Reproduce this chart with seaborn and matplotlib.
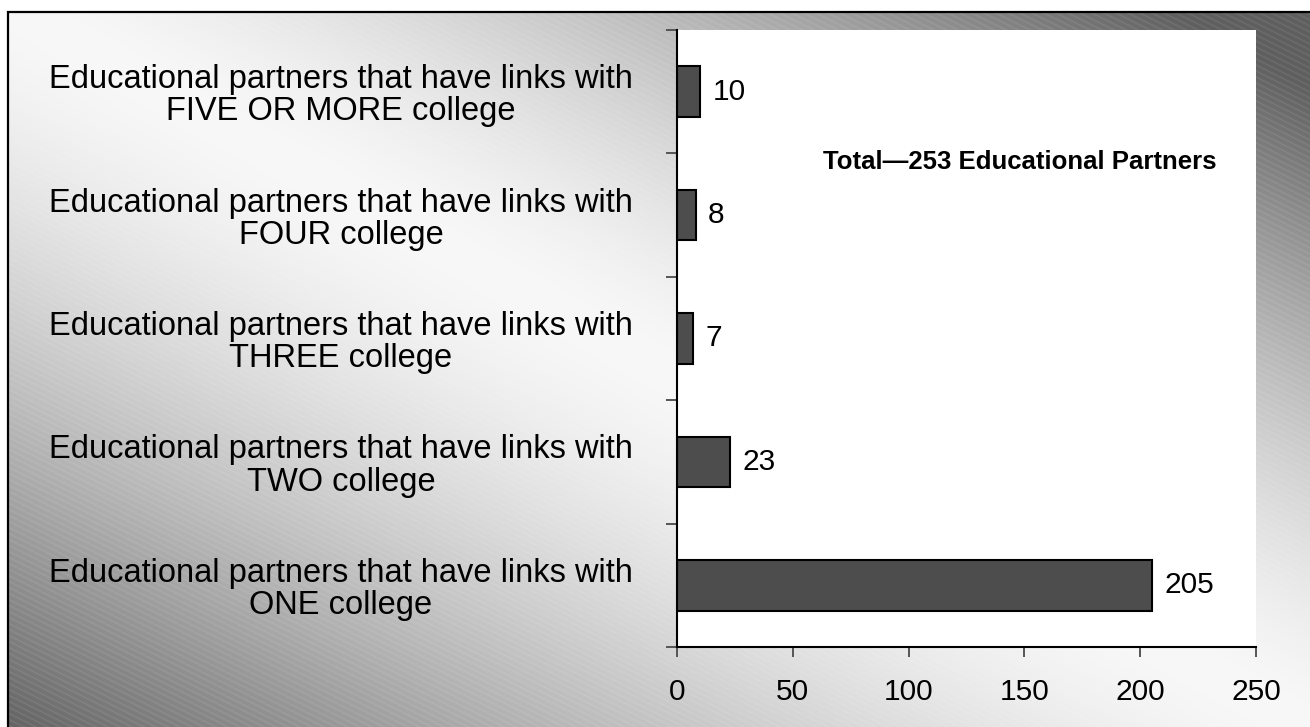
import numpy as np
import pandas as pd
import matplotlib
matplotlib.use("Agg")
import matplotlib.pyplot as plt
from matplotlib.patches import Rectangle
import seaborn as sns

# Number of educational partners by how many colleges they link with
categories = [
    "Educational partners that have links with\nFIVE OR MORE college",
    "Educational partners that have links with\nFOUR college",
    "Educational partners that have links with\nTHREE college",
    "Educational partners that have links with\nTWO college",
    "Educational partners that have links with\nONE college",
]
partners = [10, 8, 7, 23, 205]
x_ticks = [0, 50, 100, 150, 200, 250]
total_note = "Total\u2014253 Educational Partners"

sns.set_style("ticks")
plt.rcParams["font.family"] = ["Liberation Sans", "DejaVu Sans"]
plt.rcParams["text.color"] = "black"
plt.rcParams["xtick.labelcolor"] = "black"
plt.rcParams["ytick.labelcolor"] = "black"

W, H = 1310, 727
fig = plt.figure(figsize=(W / 100, H / 100), dpi=100)
fig.patch.set_facecolor("white")

# Slide-style backdrop: diagonal grey gradient with a fine striped texture
yy, xx = np.mgrid[0:H, 0:W].astype(float)
d = xx / W - yy / H
u = np.abs(d) * np.where(d > 0, 1.15, 1.0)
base = np.clip(248.0 - 150.0 * u ** 1.5, 95, 255)
phase = np.mod(yy - 0.5 * xx, 6.0)
stripes = np.where(phase < 2.0, 1.0, 0.0) * (248.0 - base) * 0.07
shade = np.clip(base + stripes, 0, 255)
shade[:11, :] = 255
shade[:, :7] = 255
img = np.dstack([shade, shade, shade]).astype(np.uint8)
fig.figimage(img, xo=0, yo=0, origin="upper", zorder=-10)

# Black frame around the backdrop
fig.add_artist(Rectangle((7.5 / W, -0.1), 1.2, 1.1 - 11.5 / H,
                         transform=fig.transFigure, fill=False,
                         edgecolor="black", linewidth=1.6, zorder=-5))

left, right, top, bottom = 677, 1256, 30, 647
ax = fig.add_axes([left / W, 1 - bottom / H, (right - left) / W, (bottom - top) / H])
ax.set_zorder(2)
ax.set_facecolor("white")

df = pd.DataFrame({"category": categories, "partners": partners})
sns.barplot(data=df, x="partners", y="category", orient="h",
            color="#4d4d4d", saturation=1, edgecolor="black",
            linewidth=1.5, width=0.41, ax=ax)

ax.set_xlim(0, 250)
ax.set_ylim(len(categories) - 0.5, -0.5)
ax.set_xlabel("")
ax.set_ylabel("")

# Category boundaries carry the tick marks; labels sit between them
ax.set_yticks(np.arange(-0.5, len(categories), 1.0))
ax.set_yticklabels([])
ax.set_yticks(np.arange(len(categories)), minor=True)
ax.set_yticklabels(categories, minor=True, fontsize=23.5, ha="center",
                   linespacing=1.05)
ax.tick_params(axis="y", which="minor", length=0, pad=242)
ax.tick_params(axis="y", which="major", length=8, width=1.4, color="#555555",
               direction="out")

ax.set_xticks(x_ticks)
ax.set_xticklabels([str(t) for t in x_ticks], fontsize=21.5)
ax.tick_params(axis="x", length=7.5, width=1.4, color="#555555", pad=15)

for side in ("top", "right"):
    ax.spines[side].set_visible(False)
for side in ("left", "bottom"):
    ax.spines[side].set_color("black")
    ax.spines[side].set_linewidth(1.5)

ax.bar_label(ax.containers[0], fmt="%g", padding=9, fontsize=21.5)

ax.text(148, 0.57, total_note, ha="center", va="center",
        fontsize=18.5, fontweight="bold")

fig.savefig("out.png", dpi=100)
